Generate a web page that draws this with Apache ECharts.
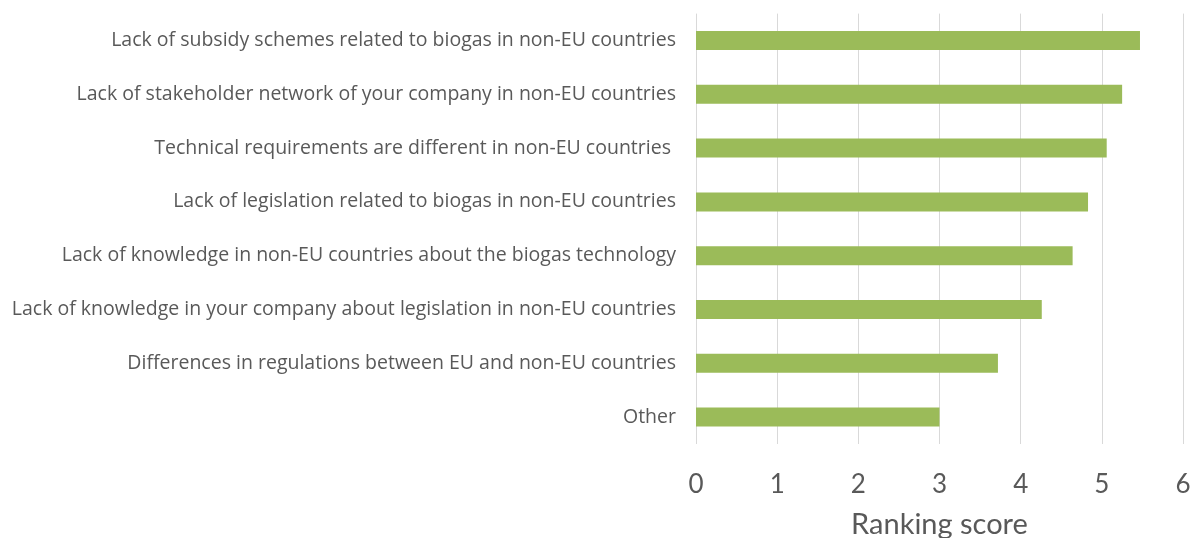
<!DOCTYPE html>
<html>
<head>
<meta charset="utf-8">
<script src="https://cdn.jsdelivr.net/npm/echarts@6/dist/echarts.min.js"></script>
<style>html,body{margin:0;padding:0;background:#fff;}#c{width:1190px;height:538px;}</style>
</head>
<body>
<div id="c"></div>
<script>
const categories = [
  "Lack of subsidy schemes related to biogas in non-EU countries",
  "Lack of stakeholder network of your company in non-EU countries",
  "Technical requirements are different in non-EU countries ",
  "Lack of legislation related to biogas in non-EU countries",
  "Lack of knowledge in non-EU countries about the biogas technology",
  "Lack of knowledge in your company about legislation in non-EU countries",
  "Differences in regulations between EU and non-EU countries",
  "Other"
];
const scores = [5.47, 5.25, 5.06, 4.83, 4.64, 4.26, 3.72, 3.00];
const xTicks = [0, 1, 2, 3, 4, 5, 6];

const chart = echarts.init(document.getElementById('c'), null, {renderer: 'canvas'});
chart.setOption({
  animation: false,
  backgroundColor: '#ffffff',
  textStyle: {fontFamily: 'Lato'},
  grid: {left: 696, right: 7, top: 13.6, bottom: 94, containLabel: false, outerBoundsMode: 'none'},
  xAxis: {
    type: 'value',
    min: xTicks[0],
    max: xTicks[xTicks.length - 1],
    interval: 1,
    axisLine: {show: false},
    axisTick: {show: false},
    splitLine: {show: true, lineStyle: {color: '#d9d9d9', width: 1}},
    axisLabel: {fontSize: 26, color: '#595959', margin: 28, fontFamily: 'Lato'},
    name: 'Ranking score',
    nameLocation: 'middle',
    nameGap: 66,
    nameTextStyle: {fontSize: 29, color: '#595959', fontFamily: 'Lato'}
  },
  yAxis: {
    type: 'category',
    data: categories,
    inverse: true,
    axisLine: {show: false},
    axisTick: {show: false},
    splitLine: {show: false},
    axisLabel: {fontSize: 19.5, color: '#595959', margin: 20, fontFamily: 'Open Sans'}
  },
  series: [{
    type: 'bar',
    data: scores,
    barWidth: 19,
    itemStyle: {color: '#9bbb59'}
  }]
});
</script>
</body>
</html>
